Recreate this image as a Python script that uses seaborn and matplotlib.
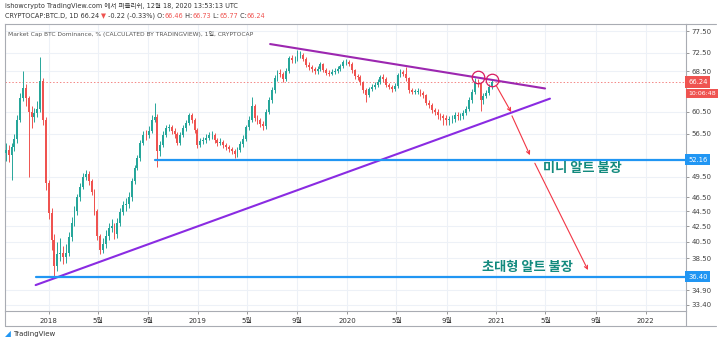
import numpy as np
import pandas as pd
import matplotlib
matplotlib.use("Agg")
import matplotlib.pyplot as plt
import matplotlib.dates as mdates
from matplotlib.ticker import FixedLocator, FixedFormatter, NullLocator
from matplotlib.lines import Line2D
import seaborn as sns

# ---------------- data (weekly candles) ----------------
week_start = "2017-09-18"
first_open = 53.2
closes = [53.8, 53.0, 54.2, 55.6, 59.0, 63.0, 65.0, 63.0, 60.5, 59.5,
          60.3, 61.0, 66.4, 59.0, 48.5, 44.3, 40.8, 37.6, 39.0, 39.2,
          38.7, 39.1, 41.1, 43.0, 44.6, 46.5, 48.0, 49.5, 49.9, 48.8,
          47.3, 44.5, 41.2, 39.5, 40.3, 41.3, 42.3, 42.6, 41.5, 43.0,
          44.4, 45.4, 45.5, 46.5, 48.8, 50.9, 52.4, 54.9, 56.3, 56.2,
          57.0, 59.0, 59.5, 53.5, 54.6, 56.3, 57.5, 57.6, 57.0, 56.4,
          55.0, 56.3, 57.5, 58.4, 59.8, 59.0, 57.2, 54.6, 55.2, 55.4,
          55.8, 56.2, 56.2, 55.4, 54.9, 55.1, 54.6, 54.2, 53.9, 53.6,
          53.1, 53.8, 54.8, 55.6, 57.6, 59.0, 61.5, 59.3, 58.9, 58.2,
          57.8, 60.5, 62.7, 64.6, 67.0, 68.2, 67.9, 66.8, 68.6, 71.3,
          70.8, 71.0, 72.0, 72.0, 71.2, 69.9, 69.3, 69.0, 68.5, 69.0,
          70.0, 68.8, 68.1, 68.0, 68.3, 68.5, 69.0, 69.6, 70.4, 70.5,
          70.1, 68.7, 67.4, 67.3, 66.2, 64.7, 63.6, 64.8, 65.3, 65.6,
          66.2, 67.2, 66.9, 65.7, 65.3, 64.8, 65.4, 67.6, 68.3, 68.0,
          67.0, 64.6, 64.3, 64.3, 64.5, 64.1, 63.6, 62.2, 61.8, 60.8,
          60.4, 59.8, 59.6, 59.3, 58.9, 59.1, 59.1, 59.8, 59.6, 59.7,
          60.2, 61.0, 62.6, 64.3, 66.0, 65.9, 62.6, 63.5, 64.0, 65.2,
          66.24]
highs = [55.0, 54.6, 55.0, 56.5, 59.8, 64.0, 68.5, 65.8, 63.5, 61.5,
         61.2, 62.5, 71.5, 67.0, 59.5, 49.0, 45.0, 41.5, 40.5, 41.0,
         40.0, 40.2, 41.8, 43.8, 45.3, 47.0, 48.6, 50.0, 50.5, 50.4,
         49.2, 47.6, 44.8, 41.5, 41.0, 42.0, 43.0, 43.4, 43.0, 43.6,
         45.0, 46.0, 46.3, 47.2, 49.3, 51.4, 53.0, 55.4, 57.0, 57.2,
         57.8, 59.8, 62.2, 60.0, 55.3, 56.9, 58.1, 58.3, 58.0, 57.5,
         56.8, 56.8, 58.0, 59.0, 60.3, 60.2, 59.3, 57.5, 55.8, 56.0,
         56.4, 56.8, 56.9, 56.6, 55.8, 55.7, 55.5, 55.0, 54.6, 54.3,
         53.9, 54.3, 55.3, 56.2, 58.1, 59.6, 63.2, 61.9, 59.9, 59.3,
         58.7, 61.0, 63.2, 65.2, 67.6, 68.8, 68.9, 68.3, 69.2, 71.8,
         71.9, 71.7, 73.0, 72.8, 72.4, 71.5, 70.4, 69.8, 69.4, 69.6,
         70.5, 70.3, 69.2, 68.7, 68.9, 69.1, 69.5, 70.1, 71.0, 71.1,
         70.9, 70.4, 69.0, 68.0, 67.7, 66.5, 65.0, 65.3, 65.9, 66.2,
         66.8, 67.8, 67.9, 67.2, 66.1, 65.7, 66.0, 68.2, 68.9, 68.8,
         69.3, 67.3, 65.0, 64.9, 65.1, 64.9, 64.4, 63.9, 62.6, 62.2,
         61.2, 60.9, 60.3, 60.0, 59.8, 59.7, 59.8, 60.5, 60.4, 60.3,
         60.8, 61.6, 63.2, 64.9, 67.0, 66.8, 66.2, 64.1, 64.6, 65.8,
         66.73]
lows = [52.0, 51.8, 49.0, 53.5, 55.0, 58.5, 62.5, 61.5, 49.5, 57.5,
        58.5, 59.5, 60.5, 58.0, 47.5, 43.5, 39.5, 36.3, 37.0, 38.2,
        37.8, 38.0, 38.8, 40.6, 42.5, 44.0, 46.0, 47.6, 49.0, 48.3,
        46.8, 44.0, 40.8, 39.0, 39.2, 39.8, 40.8, 41.8, 40.9, 41.0,
        42.6, 44.0, 44.6, 45.0, 46.0, 48.4, 50.5, 52.0, 54.5, 55.5,
        55.8, 56.6, 58.5, 51.0, 52.8, 54.2, 55.9, 57.0, 56.5, 55.8,
        54.5, 54.6, 55.9, 57.0, 58.0, 58.4, 56.7, 54.0, 54.2, 54.8,
        55.0, 55.4, 55.6, 55.0, 54.4, 54.5, 54.1, 53.8, 53.4, 53.1,
        52.4, 52.6, 53.4, 54.3, 55.2, 57.2, 58.6, 58.8, 58.2, 57.6,
        57.2, 57.4, 60.0, 62.2, 64.0, 66.5, 67.2, 66.2, 66.4, 68.2,
        70.2, 70.3, 70.6, 71.3, 70.6, 69.3, 68.8, 68.4, 67.9, 68.0,
        68.6, 68.3, 67.6, 67.5, 67.6, 67.9, 68.1, 68.6, 69.2, 69.9,
        69.6, 68.2, 66.9, 66.7, 65.6, 64.1, 62.3, 63.2, 64.4, 64.9,
        65.2, 65.8, 66.3, 65.2, 64.8, 64.2, 64.4, 65.0, 67.2, 67.4,
        66.5, 64.0, 63.8, 63.8, 63.9, 63.5, 63.0, 61.7, 61.2, 60.2,
        59.8, 59.2, 58.9, 58.1, 58.0, 58.0, 58.4, 58.6, 59.0, 58.9,
        59.2, 59.8, 60.6, 62.2, 63.9, 65.2, 60.6, 62.0, 63.0, 63.6,
        64.8]

ytick_values = [33.40, 34.90, 38.50, 40.50, 42.50, 44.50, 46.50, 49.50,
                56.50, 60.50, 68.50, 72.50, 77.50]
xtick_dates = ["2018-01-01", "2018-05-01", "2018-09-01", "2019-01-01",
               "2019-05-01", "2019-09-01", "2020-01-01", "2020-05-01",
               "2020-09-01", "2021-01-01", "2021-05-01", "2021-09-01",
               "2022-01-01"]
xtick_labels = ["2018", "5월", "9월", "2019", "5월", "9월", "2020", "5월",
                "9월", "2021", "5월", "9월", "2022"]
view_start, view_end = "2017-09-16", "2022-04-10"
y_min, y_max = 32.75, 79.2

resistance_dates = ["2019-06-27", "2021-04-30"]
resistance_vals = [74.46, 64.95]
support_dates = ["2017-11-30", "2021-05-12"]
support_vals = [35.47, 62.95]
level_dates = ["2018-09-17", "2017-11-30"]
level_vals = [52.16, 36.40]
last_price = 66.24
countdown = "10:06:48"
circle_dates = ["2020-11-17", "2020-12-21"]
circle_vals = [67.27, 66.65]
arrow_from_dates = ["2020-12-31", "2021-02-08", "2021-04-05"]
arrow_from_vals = [65.6, 59.7, 51.6]
arrow_to_dates = ["2021-02-06", "2021-03-24", "2021-08-13"]
arrow_to_vals = [60.4, 52.9, 37.15]
label_texts = ["미니 알트 불장", "초대형 알트 불장"]
label_dates = ["2021-04-25", "2020-11-27"]
label_vals = [50.84, 37.5]

header1 = "ishowcrypto TradingView.com 에서 퍼블리쉬, 12월 18, 2020 13:53:13 UTC"
header2_parts = [("CRYPTOCAP:BTC.D, 1D 66.24 ", "#333333"), ("▼", "#ef5350"),
                 (" -0.22 (-0.33%) O:", "#333333"), ("66.46", "#ef5350"),
                 (" H:", "#333333"), ("66.73", "#ef5350"), (" L:", "#333333"),
                 ("65.77", "#ef5350"), (" C:", "#333333"), ("66.24", "#ef5350")]
legend_text = "Market Cap BTC Dominance, % (CALCULATED BY TRADINGVIEW), 1일, CRYPTOCAP"

# ---------------- style ----------------
UP, DOWN = "#26a69a", "#ef5350"
BLUE = "#2196f3"
sns.set_theme(style="white")
plt.rcParams["font.family"] = ["DejaVu Sans", "Noto Sans CJK KR"]

W, H = 720, 342
fig = plt.figure(figsize=(W / 100, H / 100), dpi=100)
fig.patch.set_facecolor("white")
ax = fig.add_axes([5 / W, 1 - 311 / H, 681 / W, 287 / H])


def dn(d):
    return mdates.date2num(pd.to_datetime(d))


# candles
dates = pd.date_range(week_start, periods=len(closes), freq="7D")
xd = mdates.date2num(dates)
c = np.array(closes)
o = np.array([first_open] + closes[:-1])
colors = np.where(c >= o, UP, DOWN)
ax.vlines(xd, lows, highs, colors=colors, lw=0.7, zorder=3)
ax.bar(xd, np.maximum(np.abs(c - o), 0.08), bottom=np.minimum(o, c), width=4.6,
       color=colors, linewidth=0, zorder=4)

ax.set_yscale("log")

# last price dotted line
ax.axhline(last_price, color="#ef5350", lw=0.7, ls=(0, (1.5, 2)), alpha=0.7, zorder=2)

# trend lines and levels (seaborn)
sns.lineplot(x=dn(resistance_dates), y=resistance_vals, ax=ax, color="#9c27b0", lw=1.5, zorder=6)
sns.lineplot(x=dn(support_dates), y=support_vals, ax=ax, color="#8a2be2", lw=1.5, zorder=6)
xr = dn(view_end)
for d, v in zip(level_dates, level_vals):
    sns.lineplot(x=[dn(d), xr], y=[v, v], ax=ax, color=BLUE, lw=1.6, zorder=6)
ax.set_xlim(dn(view_start), dn(view_end))
ax.set_ylim(y_min, y_max)

# circles
ax.plot(dn(circle_dates), circle_vals, ls="none", marker="o", ms=9, mfc="none",
        mec="#d81b60", mew=0.9, zorder=7)

# arrows
for fd, fv, td, tv in zip(arrow_from_dates, arrow_from_vals, arrow_to_dates, arrow_to_vals):
    ax.annotate("", xy=(dn(td), tv), xytext=(dn(fd), fv),
                arrowprops=dict(arrowstyle="->", color="#f23645", lw=0.8,
                                mutation_scale=6, shrinkA=0, shrinkB=0), zorder=7)

# labels
for t, d, v in zip(label_texts, label_dates, label_vals):
    ax.text(dn(d), v, t, fontsize=9.5, fontweight="bold", color="#138a7e",
            family=["Noto Sans CJK KR"], ha="left", va="center", zorder=8)

# axes cosmetics
ax.yaxis.tick_right()
ax.yaxis.set_major_locator(FixedLocator(ytick_values))
ax.yaxis.set_major_formatter(FixedFormatter([f"{v:.2f}" for v in ytick_values]))
ax.yaxis.set_minor_locator(NullLocator())
ax.xaxis.set_major_locator(FixedLocator(dn(xtick_dates)))
ax.xaxis.set_major_formatter(FixedFormatter(xtick_labels))
ax.tick_params(axis="y", which="major", right=True, left=False, length=2.5, width=0.6,
               color="#888888", labelsize=5, labelcolor="#444444", pad=1.5)
ax.tick_params(axis="x", which="major", bottom=True, length=2, width=0.6,
               color="#888888", labelsize=5, labelcolor="#333333", pad=3)
ax.grid(True, which="major", color="#edf1f7", lw=0.8, zorder=0)
ax.set_axisbelow(True)
ax.set_xlabel("")
ax.set_ylabel("")
for s in ax.spines.values():
    s.set_color("#a9acb3")
    s.set_linewidth(0.8)

# price badges
ytr = ax.get_yaxis_transform()
bfs = 4.9
ax.text(1.003, last_price, f"{last_price:.2f}", transform=ytr, ha="left", va="center",
        fontsize=bfs, color="white", clip_on=False, zorder=10,
        bbox=dict(boxstyle="square,pad=0.38", fc="#ef5350", ec="none"))
ax.annotate(countdown, xy=(1.003, last_price), xycoords=ytr, xytext=(0, -8.2),
            textcoords="offset points", ha="left", va="center", fontsize=4.5, color="white",
            bbox=dict(boxstyle="square,pad=0.3", fc="#ef5350", ec="none"),
            annotation_clip=False, zorder=10)
for v in level_vals:
    ax.text(1.003, v, f"{v:.2f}", transform=ytr, ha="left", va="center",
            fontsize=bfs, color="white", clip_on=False, zorder=10,
            bbox=dict(boxstyle="square,pad=0.38", fc=BLUE, ec="none"))

# in-chart legend
ax.text(0.005, 0.975, legend_text, transform=ax.transAxes, fontsize=4.3,
        color="#555555", ha="left", va="top", zorder=9)

# frame lines around the axis panes
fl = dict(color="#a9acb3", lw=0.8, transform=fig.transFigure)
for xs, ys in [([5, 716], [326, 326]), ([5, 5], [311, 326]), ([686, 686], [311, 326]),
               ([686, 716], [24, 24])]:
    fig.add_artist(Line2D([x / W for x in xs], [1 - y / H for y in ys], **fl))

# header
hfs = 4.7
fig.text(5 / W, 1 - 6 / H, header1, fontsize=hfs, color="#333333", ha="left", va="center")
chain = fig.text(5 / W, 1 - 19 / H, header2_parts[0][0], fontsize=hfs,
                 color=header2_parts[0][1], ha="left", va="bottom")
for txt, col in header2_parts[1:]:
    chain = ax.annotate(txt, xy=(1, 0), xycoords=chain, xytext=(0, 0),
                        textcoords="offset points", fontsize=hfs, color=col,
                        ha="left", va="bottom", annotation_clip=False)

# TradingView mark
fig.text(5 / W, 1 - 334 / H, "◢", fontsize=5.5, color=BLUE, ha="left", va="center")
fig.text(13 / W, 1 - 334 / H, "TradingView", fontsize=5, color="#333333",
         ha="left", va="center")

fig.savefig("out.png", dpi=100, facecolor="white")
